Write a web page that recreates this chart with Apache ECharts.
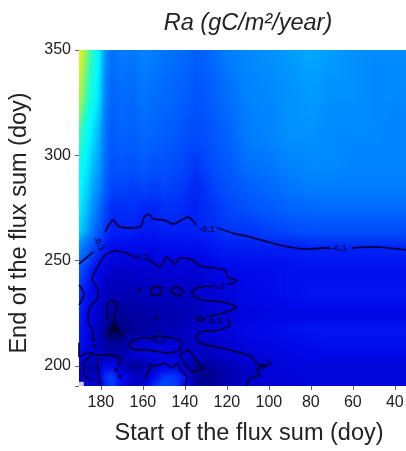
<!DOCTYPE html>
<html><head><meta charset="utf-8">
<style>html,body{margin:0;padding:0;background:#fff}#c{width:406px;height:451px}</style>
<script src="https://cdn.jsdelivr.net/npm/echarts@6/dist/echarts.min.js"></script>
</head><body><div id="c"></div>
<script>
// Start day of the flux sum (columns) and end day of the flux sum (rows)
const startDays = [190.4,187,184,181,178,175,170,165,160,155,150,145,140,135,130,125,120,110,100,90,80,70,60,50,40,34.7];
const endDays = [350,330,310,295,285,275,265,255,245,235,225,217,210,205,200,195,190.5];
// Ra, one list per end day
const r350=[.37,.28,.21,.165,.08,.03,.05,.04,.06,.05,.04,.03,.02,.0,.01,.03,.05,.07,.08,.09,.10,.09,.08,.07,.07,.07];
const r330=[.32,.24,.19,.15,.06,.01,.03,.02,.04,.03,.02,.01,.0,-.02,-.01,.01,.03,.06,.07,.08,.09,.08,.08,.07,.07,.07];
const r310=[.24,.18,.15,.11,.04,-.01,.01,.0,.02,.01,.0,-.01,-.03,-.04,-.03,-.01,.01,.05,.06,.08,.08,.07,.07,.07,.06,.06];
const r295=[.19,.16,.12,.09,.02,-.03,-.02,-.03,-.01,-.03,-.03,-.04,-.05,-.07,-.05,-.03,-.01,.03,.04,.06,.07,.07,.06,.06,.06,.06];
const r285=[.18,.14,.1,.07,.0,-.05,-.05,-.06,-.05,-.06,-.05,-.06,-.07,-.09,-.07,-.05,-.03,.0,.02,.04,.05,.05,.05,.05,.05,.05];
const r275=[.16,.12,.08,.03,-.05,-.08,-.08,-.08,-.09,-.09,-.08,-.08,-.09,-.1,-.08,-.07,-.05,-.03,-.01,.01,.02,.02,.02,.02,.02,.02];
const r265=[.14,.1,.05,-.02,-.07,-.1,-.1,-.1,-.11,-.11,-.1,-.1,-.1,-.1,-.09,-.08,-.07,-.07,-.05,-.04,-.03,-.03,-.03,-.03,-.03,-.03];
const r255=[.06,.01,-.05,-.09,-.12,-.14,-.15,-.15,-.15,-.15,-.14,-.14,-.14,-.14,-.13,-.12,-.11,-.11,-.11,-.11,-.10,-.10,-.10,-.10,-.10,-.10];
const r245=[-.03,-.08,-.12,-.15,-.18,-.2,-.21,-.2,-.2,-.2,-.19,-.19,-.19,-.19,-.17,-.16,-.15,-.14,-.14,-.13,-.13,-.13,-.13,-.13,-.13,-.13];
const r235=[-.08,-.12,-.16,-.18,-.22,-.23,-.23,-.23,-.22,-.22,-.22,-.22,-.22,-.21,-.19,-.18,-.17,-.15,-.14,-.13,-.12,-.12,-.12,-.12,-.12,-.12];
const r225=[-.1,-.14,-.17,-.2,-.24,-.26,-.27,-.26,-.25,-.25,-.24,-.24,-.23,-.23,-.2,-.19,-.18,-.17,-.16,-.15,-.15,-.15,-.15,-.15,-.15,-.15];
const r217=[-.12,-.15,-.19,-.22,-.28,-.34,-.3,-.27,-.26,-.25,-.24,-.23,-.22,-.2,-.19,-.18,-.17,-.15,-.14,-.13,-.12,-.12,-.12,-.12,-.12,-.12];
const r210=[-.12,-.16,-.19,-.21,-.25,-.27,-.26,-.22,-.19,-.18,-.18,-.19,-.21,-.21,-.22,-.2,-.19,-.17,-.16,-.15,-.14,-.13,-.13,-.13,-.13,-.13];
const r205=[-.14,-.17,-.2,-.22,-.24,-.25,-.24,-.2,-.18,-.17,-.17,-.18,-.19,-.2,-.22,-.21,-.2,-.18,-.17,-.16,-.15,-.15,-.15,-.15,-.15,-.15];
const r200=[-.2,-.24,-.26,-.2,-.15,-.14,-.22,-.27,-.25,-.2,-.16,-.15,-.22,-.27,-.27,-.25,-.23,-.2,-.18,-.17,-.17,-.17,-.17,-.17,-.17,-.17];
const r195=[-.22,-.2,-.24,-.18,-.08,-.06,-.14,-.2,-.22,-.14,-.07,-.07,-.12,-.27,-.29,-.27,-.24,-.21,-.18,-.18,-.17,-.17,-.17,-.17,-.17,-.17];
const r190=[-.2,-.18,-.22,-.2,-.1,-.06,-.14,-.22,-.2,-.08,-.04,-.06,-.14,-.26,-.28,-.26,-.24,-.21,-.19,-.18,-.17,-.17,-.17,-.17,-.17,-.17];
const raRows=[r350,r330,r310,r295,r285,r275,r265,r255,r245,r235,r225,r217,r210,r205,r200,r195,r190];
// Tick labels
const xTicks=[180,160,140,120,100,80,60,40];
const yTicks=[200,250,300,350];
// Contours as [start day, end day]
const c01a=[[190.4,248.4],[183.7,254.1]];
const c01b=[[178,263.6],[174.1,269.3],[171.8,266.5],[166.5,265.5],[160.8,266.5],[159.4,270.7],[157,272.2],[155.1,269.8],[149.9,269.3],[145.6,267.4],[138.4,270.7],[134.6,266.9]];
const c01c=[[124.6,265.5],[117,263.1],[108.9,261.2],[94.6,257.4],[83.7,255.6],[70.8,256]];
const c01d=[[60.3,256],[50.3,256.5],[34.7,255.1]];
const c02a=[[183.7,213.3],[183.7,216.2],[186.1,220.9],[185.1,228],[181.3,232.8],[181.3,236.1],[184.2,241.3],[181.8,246.5],[178,252.7],[172.3,254.6],[163.7,251.8]];
const c02b=[[157.5,250.8],[151.8,247],[148.5,251.8],[144.7,248.4],[142.3,251.3],[136.1,250.3],[132.8,247.5],[125.7,246.5],[120.9,245.6],[119.5,242.3],[115.2,240.4],[120,238.5]];
const c02c=[[128,238],[134.2,237],[136.6,235.1],[135.2,232.8],[131.4,231.3],[122.3,230.4],[115.6,228],[119.9,225.7],[129.5,223.3]];
const c02d=[[134.7,222.3],[132.3,223.3],[130.4,222.3],[132.8,221.4],[134.7,222.3]];
const c02e=[[119.5,222.8],[118.5,219.5],[123.3,217.1],[132.8,216.2],[134.7,213.8],[132.8,211],[124.7,209],[115.2,206.7],[108,204.3],[105.2,200.5],[100.9,200.5],[105.7,198.1],[104.2,195.8],[109,194.3],[110.4,190.5]];
const c02f=[[190.4,238.5],[188,234.2],[190.4,229]];
const c02g=[[190.4,211],[190.4,204.3],[185.6,206.2],[181.4,205.3],[176.1,205.3],[170.4,202.9],[171.8,200]];
const c02h=[[184.2,205.2],[188,201.4],[188,195.8],[185.6,193.4]];
const c02i=[[181.4,203.8],[180.9,194.3],[179.9,190.5]];
const c03a=[[167.1,210],[161.4,213.3],[155.6,213.3],[153.3,214.3],[145.6,213.3],[141.4,211.4],[142.3,207.6],[148.5,206.2],[159,207.6],[163.7,207.6],[167.1,210]];
const c03b=[[156.6,236.6],[154.2,237.5],[150.9,237.1],[151.8,233.7],[155.6,233.7],[156.6,236.6]];
const c03c=[[147.1,236.1],[143.7,237.5],[140.9,235.6],[143.3,233.2],[146.1,234.7],[147.1,236.1]];
const c03d=[[176.6,221.9],[177.1,227.6],[175.6,230.9],[171.8,229.5],[173.3,225.2],[174.2,220.9]];
const c03e=[[159,194.3],[155.6,199.6],[151.8,200.5],[149.5,201.4],[146.1,199.1],[143.7,201.4],[142.3,198.1],[139,194.8],[139.9,190.5]];
const c03f=[[142.3,205.2],[138.5,207.6],[133.8,201.4],[131.4,199.1],[136.6,197.2],[139,199.5],[142.3,205.2]];
const contours=[c01a,c01b,c01c,c01d,c02a,c02b,c02c,c02d,c02e,c02f,c02g,c02h,c02i,c03a,c03b,c03c,c03d,c03e,c03f];
// Contour labels: [start day, end day, text, rotation]
const contourLabels=[[180.9,258,'-0.1',-58],[129.5,265,'-0.1',0],[66.6,255.6,'-0.1',0],[160.9,251.3,'-0.2',0],[124.7,237.5,'-0.2',0],[125.7,220.9,'-0.2',0],[101.9,200,'-0.2',35],[152.8,211.9,'-0.3',0],[173.3,214.7,'-0.35',0]];
// Small closed dark spots of the contour field
const spots=[[172.8,198.1],[153.3,222.8],[161.8,236.1],[131.8,199.1],[183.7,212.4],[182.8,209.5],[156.6,200.5],[171,195]];
const peak=[[173.6,219]];
const cornerMark=[[189.3,191.3]];

// Colour scale
const stops=[[-.36,[0,0,90]],[-.28,[0,0,145]],[-.2,[0,0,205]],[-.14,[0,10,235]],[-.1,[0,32,245]],[-.04,[0,75,252]],[.02,[0,105,255]],[.08,[0,145,255]],[.14,[0,215,255]],[.17,[0,250,255]],[.22,[40,250,200]],[.29,[150,245,90]],[.36,[230,240,30]]];
function colour(v){
  if(v<=stops[0][0])return stops[0][1];
  for(let i=1;i<stops.length;i++){
    if(v<=stops[i][0]){
      const a=stops[i-1],b=stops[i],t=(v-a[0])/(b[0]-a[0]);
      return a[1].map((c,k)=>c+(b[1][k]-c)*t);
    }
  }
  return stops[stops.length-1][1];
}
// A cell shades between its four corner values
function cellImage(a,b,c,d){
  const n=8,cv=document.createElement('canvas');cv.width=cv.height=n;
  const g=cv.getContext('2d'),im=g.createImageData(n,n);
  for(let j=0;j<n;j++)for(let i=0;i<n;i++){
    const u=i/(n-1),w=j/(n-1),v=(a*(1-u)+b*u)*(1-w)+(c*(1-u)+d*u)*w,col=colour(v),p=(j*n+i)*4;
    im.data[p]=col[0];im.data[p+1]=col[1];im.data[p+2]=col[2];im.data[p+3]=255;
  }
  g.putImageData(im,0,0);return cv;
}
const cells=[],images=[];
for(let j=0;j<endDays.length-1;j++)for(let i=0;i<startDays.length-1;i++){
  cells.push([startDays[i],endDays[j],startDays[i+1],endDays[j+1],images.length]);
  images.push(cellImage(raRows[j][i],raRows[j][i+1],raRows[j+1][i],raRows[j+1][i+1]));
}
const FONT='"Liberation Sans", Arial, sans-serif',INK='#222222',LINE='#00003a';
const series=[{
  type:'custom',silent:true,clip:true,z:1,
  encode:{x:[0,2],y:[1,3]},data:cells,
  renderItem(params,api){
    const p=api.coord([api.value(0),api.value(1)]),q=api.coord([api.value(2),api.value(3)]);
    return {type:'image',style:{image:images[api.value(4)],x:p[0],y:p[1],width:q[0]-p[0]+0.6,height:q[1]-p[1]+0.6}};
  }
}];
contours.forEach(c=>series.push({type:'line',data:c,symbol:'none',smooth:0.25,silent:true,z:3,clip:true,
  lineStyle:{color:LINE,width:1.3,opacity:.92,shadowBlur:1,shadowColor:LINE}}));
series.push({type:'scatter',data:spots,symbol:'circle',symbolSize:4,silent:true,z:3,itemStyle:{color:'#00002e'}});
series.push({type:'scatter',data:peak,symbol:'triangle',symbolSize:[13,12],silent:true,z:3,itemStyle:{color:'#00002a'}});
series.push({type:'scatter',data:cornerMark,symbol:'rect',symbolSize:5,silent:true,z:4,itemStyle:{color:'#ffffff'}});
series.push({type:'scatter',data:contourLabels.map(l=>({value:[l[0],l[1]],label:{show:true,position:'inside',formatter:l[2],rotate:l[3],fontSize:9,fontWeight:'bold',fontFamily:FONT,color:'#00002e'}})),symbolSize:1,itemStyle:{color:'transparent'},silent:true,z:5});

const chart=echarts.init(document.getElementById('c'),null,{renderer:'canvas'});
chart.setOption({
  animation:false,backgroundColor:'#ffffff',
  title:{text:'Ra (gC/m²/year)',left:243,top:7,textAlign:'center',textStyle:{fontFamily:FONT,fontSize:23.5,fontStyle:'italic',fontWeight:'normal',color:INK}},
  grid:{left:79,top:50,width:327,height:336,containLabel:false,outerBoundsMode:'none'},
  xAxis:{type:'value',inverse:true,min:34.7,max:190.4,splitLine:{show:false},
    axisLine:{show:false},
    axisTick:{show:true,length:4,lineStyle:{color:'#666',width:1},customValues:xTicks},
    axisLabel:{fontFamily:FONT,fontSize:16,color:INK,margin:9,customValues:xTicks},
    name:'Start of the flux sum (doy)',nameLocation:'middle',nameGap:36,
    nameTextStyle:{fontFamily:FONT,fontSize:23.5,color:INK,padding:[0,0,0,13]}},
  yAxis:{type:'value',min:190.5,max:350,splitLine:{show:false},
    axisLine:{show:false},
    axisTick:{show:true,length:4,lineStyle:{color:'#666',width:1},customValues:[190.5].concat(yTicks)},
    axisLabel:{fontFamily:FONT,fontSize:16,color:INK,margin:8,customValues:yTicks},
    name:'End of the flux sum (doy)',nameLocation:'middle',nameGap:47,nameRotate:90,
    nameTextStyle:{fontFamily:FONT,fontSize:23.5,color:INK,padding:[0,10,0,0]}},
  series
});
</script></body></html>
